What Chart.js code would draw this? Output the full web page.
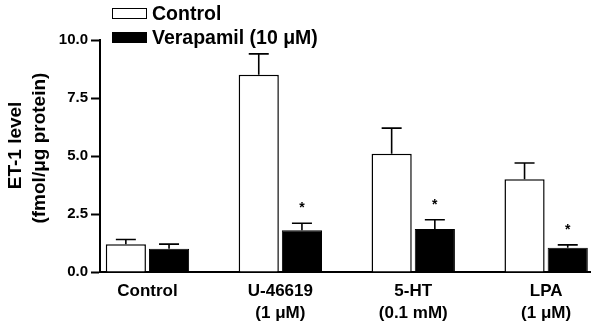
<!DOCTYPE html>
<html>
<head>
<meta charset="utf-8">
<script src="https://cdn.jsdelivr.net/npm/chart.js@4.4.2/dist/chart.umd.min.js"></script>
<style>
  html, body { margin: 0; padding: 0; background: #fff; }
  #wrap { position: relative; width: 601px; height: 330px; }
  #legend { position: absolute; left: 112px; top: 2px; font: bold 19.5px 'Liberation Sans', Arial, sans-serif; color: #000; }
  #legend .item { display: flex; align-items: center; height: 23.5px; white-space: nowrap; }
  #legend .box { display: inline-block; width: 35px; height: 11px; margin-right: 5px; box-sizing: border-box; }
</style>
</head>
<body>
<div id="wrap">
  <canvas id="chart" width="601" height="330"></canvas>
  <div id="legend"></div>
</div>
<script>
const groupLabels = ['Control', ['U-46619', '(1 μM)'], ['5-HT', '(0.1 mM)'], ['LPA', '(1 μM)']];
const seriesNames = ['Control', 'Verapamil (10 μM)'];
const controlMean = [1.2, 8.5, 5.1, 4.0];
const controlSem = [0.2, 0.9, 1.1, 0.7];
const verapamilMean = [1.0, 1.8, 1.85, 1.05];
const verapamilSem = [0.2, 0.3, 0.4, 0.12];
const significant = [false, true, true, true];
const yTicks = [0, 2.5, 5, 7.5, 10];

const FONT = "'Liberation Sans', Arial, sans-serif";
const sems = [controlSem, verapamilSem];

// error bars (upper only) and asterisks, placed through the chart scales
const errorBars = {
  id: 'errorBars',
  afterDatasetsDraw(chart) {
    const ctx = chart.ctx;
    const y = chart.scales.y;
    ctx.save();
    ctx.strokeStyle = '#000';
    ctx.lineWidth = 1.6;
    chart.data.datasets.forEach((ds, i) => {
      chart.getDatasetMeta(i).data.forEach((bar, j) => {
        const top = y.getPixelForValue(ds.data[j] + sems[i][j]);
        ctx.beginPath();
        ctx.moveTo(bar.x, bar.y);
        ctx.lineTo(bar.x, top);
        ctx.moveTo(bar.x - 10, top);
        ctx.lineTo(bar.x + 10, top);
        ctx.stroke();
        if (i === 1 && significant[j]) {
          ctx.fillStyle = '#000';
          ctx.font = 'bold 14px ' + FONT;
          ctx.textAlign = 'center';
          ctx.textBaseline = 'alphabetic';
          ctx.fillText('*', bar.x, top - 11);
        }
      });
    });
    ctx.restore();
  }
};

const htmlLegend = {
  id: 'htmlLegend',
  afterUpdate(chart) {
    const el = document.getElementById('legend');
    el.replaceChildren();
    chart.data.datasets.forEach((ds) => {
      const item = document.createElement('div');
      item.className = 'item';
      const box = document.createElement('span');
      box.className = 'box';
      box.style.background = ds.backgroundColor;
      box.style.border = '1.5px solid ' + ds.borderColor;
      item.appendChild(box);
      item.appendChild(document.createTextNode(ds.label));
      el.appendChild(item);
    });
  }
};

new Chart(document.getElementById('chart'), {
  type: 'bar',
  data: {
    labels: groupLabels.map((_, i) => i),
    datasets: [{
      label: seriesNames[0],
      data: controlMean,
      backgroundColor: '#ffffff',
      borderColor: '#000000',
      borderWidth: 1.5
    }, {
      label: seriesNames[1],
      data: verapamilMean,
      backgroundColor: '#000000',
      borderColor: '#000000',
      borderWidth: 1
    }]
  },
  options: {
    responsive: false,
    animation: false,
    devicePixelRatio: 1,
    categoryPercentage: 0.65,
    barPercentage: 0.93,
    layout: { padding: { top: 40, right: 11, bottom: 0, left: 0 } },
    plugins: {
      legend: { display: false },
      tooltip: { enabled: false }
    },
    scales: {
      x: {
        type: 'linear',
        offset: false,
        min: -0.357,
        max: 3.33,
        afterFit: (s) => { s.height = 58; },
        grid: { display: false, offset: false },
        border: { display: true, color: '#000', width: 2 },
        ticks: {
          stepSize: 1,
          includeBounds: false,
          autoSkip: false,
          maxRotation: 0,
          padding: 1,
          color: '#000',
          font: { family: FONT, size: 17, weight: 'bold', lineHeight: 1.25 },
          callback: (v) => groupLabels[v] ?? ''
        }
      },
      y: {
        min: 0,
        max: 10,
        afterFit: (s) => { s.width = 100; },
        afterBuildTicks: (s) => { s.ticks = yTicks.map(v => ({ value: v })); },
        grid: { drawOnChartArea: false, tickLength: 9, tickWidth: 2, tickColor: '#000' },
        border: { display: true, color: '#000', width: 2 },
        ticks: {
          padding: 3,
          color: '#000',
          font: { family: FONT, size: 15, weight: 'bold' },
          callback: (v) => v.toFixed(1)
        },
        title: {
          display: true,
          // leading spaces nudge the rotated lines up a little, as in the original
          text: ['    ET-1 level', '   (fmol/μg protein)'],
          color: '#000',
          padding: { top: 3, bottom: 0 },
          font: { family: FONT, size: 19, weight: 'bold', lineHeight: 1.3 }
        }
      }
    }
  },
  plugins: [errorBars, htmlLegend]
});
</script>
</body>
</html>
